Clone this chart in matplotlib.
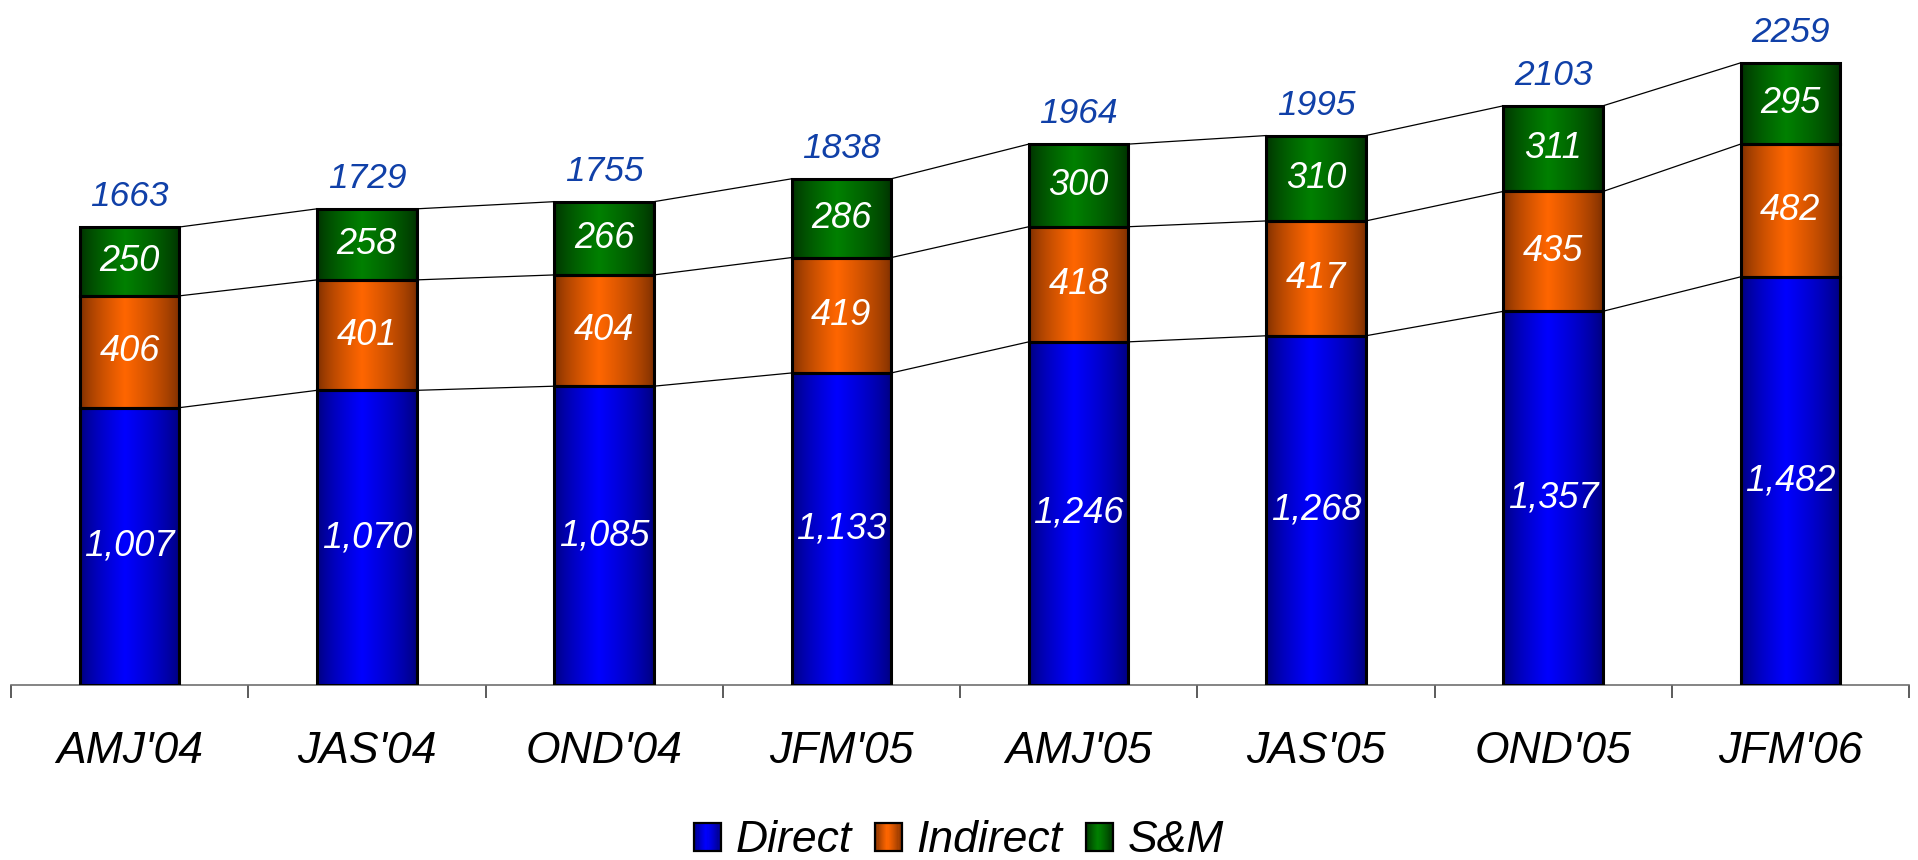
import numpy as np
import matplotlib
matplotlib.use("Agg")
import matplotlib.pyplot as plt
from matplotlib.patches import Rectangle
from matplotlib.legend_handler import HandlerBase
from matplotlib.colors import to_rgb

# ---- data -------------------------------------------------------------
quarters = ["AMJ'04", "JAS'04", "OND'04", "JFM'05", "AMJ'05", "JAS'05", "OND'05", "JFM'06"]
direct = [1007, 1070, 1085, 1133, 1246, 1268, 1357, 1482]
indirect = [406, 401, 404, 419, 418, 417, 435, 482]
s_and_m = [250, 258, 266, 286, 300, 310, 311, 295]
series_names = ["Direct", "Indirect", "S&M"]

# ---- styling ----------------------------------------------------------
FONT = "Liberation Sans"
# (edge shade, centre shade) for the cylindrical gradient of each series
shades = [("#00007a", "#0000ff"), ("#7a2e00", "#ff6600"), ("#003000", "#008000")]
TOTAL_COLOR = "#1040a8"
BAR_W = 0.42


def gradient_colors(edge, centre, n=64, peak=0.45):
    e = np.array(to_rgb(edge))
    c = np.array(to_rgb(centre))
    t = np.linspace(0, 1, n)
    w = np.where(t < peak, t / peak, (1 - t) / (1 - peak))
    w = np.clip(w, 0, 1) ** 0.7
    return e[None, :] * (1 - w[:, None]) + c[None, :] * w[:, None]


fig = plt.figure(figsize=(19.18, 8.6), dpi=100)
ax = fig.add_axes([11 / 1918, 175 / 860, 1898 / 1918, 685 / 860])

x = np.arange(len(quarters))
layers = [np.array(direct), np.array(indirect), np.array(s_and_m)]
bottoms = np.zeros(len(quarters))

tops_per_layer = []
for k, vals in enumerate(layers):
    grad = gradient_colors(*shades[k])
    bars = ax.bar(x, vals, BAR_W, bottom=bottoms, facecolor="none",
                  edgecolor="black", linewidth=2.2, zorder=3)
    for rect, v in zip(bars, vals):
        x0, y0 = rect.get_x(), rect.get_y()
        ax.imshow(grad[None, :, :], extent=(x0, x0 + rect.get_width(), y0, y0 + v),
                  aspect="auto", interpolation="bilinear", zorder=2)
        ax.text(x0 + rect.get_width() / 2, y0 + v / 2, f"{v:,}",
                ha="center", va="center", color="white", fontsize=26,
                style="italic", family=FONT, zorder=4)
    bottoms = bottoms + vals
    tops_per_layer.append(bottoms.copy())

# series connector lines between neighbouring bars
for tops in tops_per_layer:
    for i in range(len(quarters) - 1):
        ax.plot([x[i] + BAR_W / 2, x[i + 1] - BAR_W / 2], [tops[i], tops[i + 1]],
                color="black", linewidth=0.9, zorder=1)

# totals above each bar
totals = tops_per_layer[-1]
for xi, t in zip(x, totals):
    ax.annotate(f"{int(t)}", (xi, t), xytext=(0, 10), textcoords="offset points",
                ha="center", va="bottom", color=TOTAL_COLOR, fontsize=25.5,
                style="italic", family=FONT)

ax.set_xlim(-0.5, len(quarters) - 0.5)
ax.set_ylim(0, 685 / (458 / 1663))

for side in ("left", "right", "top"):
    ax.spines[side].set_visible(False)
ax.spines["bottom"].set_color("#707070")
ax.spines["bottom"].set_linewidth(1.2)
ax.set_yticks([])

ax.set_xticks(x)
ax.set_xticklabels(quarters, fontsize=32, style="italic", family=FONT)
ax.tick_params(axis="x", which="major", length=0, pad=33)
ax.set_xticks(np.arange(-0.5, len(quarters)), minor=True)
ax.tick_params(axis="x", which="minor", length=9.5, width=1.2, color="#404040")


class GradientBoxHandler(HandlerBase):
    def __init__(self, edge, centre):
        super().__init__()
        self.cols = gradient_colors(edge, centre, n=24)

    def create_artists(self, legend, orig_handle, xdescent, ydescent, width, height,
                       fontsize, trans):
        n = len(self.cols)
        arts = []
        for j, c in enumerate(self.cols):
            arts.append(Rectangle((-xdescent + width * j / n, -ydescent), width / n + 0.3,
                                  height, facecolor=c, edgecolor="none", transform=trans))
        arts.append(Rectangle((-xdescent, -ydescent), width, height, facecolor="none",
                              edgecolor="black", linewidth=1.6, transform=trans))
        return arts


handles = [Rectangle((0, 0), 1, 1) for _ in series_names]
leg = fig.legend(handles, series_names, loc="center", bbox_to_anchor=(0.5, 1 - 841 / 860),
                 ncol=3, frameon=False, handlelength=0.6, handleheight=0.58,
                 handletextpad=0.33, columnspacing=0.53, borderpad=0.0,
                 prop={"family": FONT, "style": "italic", "size": 32},
                 handler_map={h: GradientBoxHandler(*shades[i]) for i, h in enumerate(handles)})

fig.savefig("out.png", dpi=100)
